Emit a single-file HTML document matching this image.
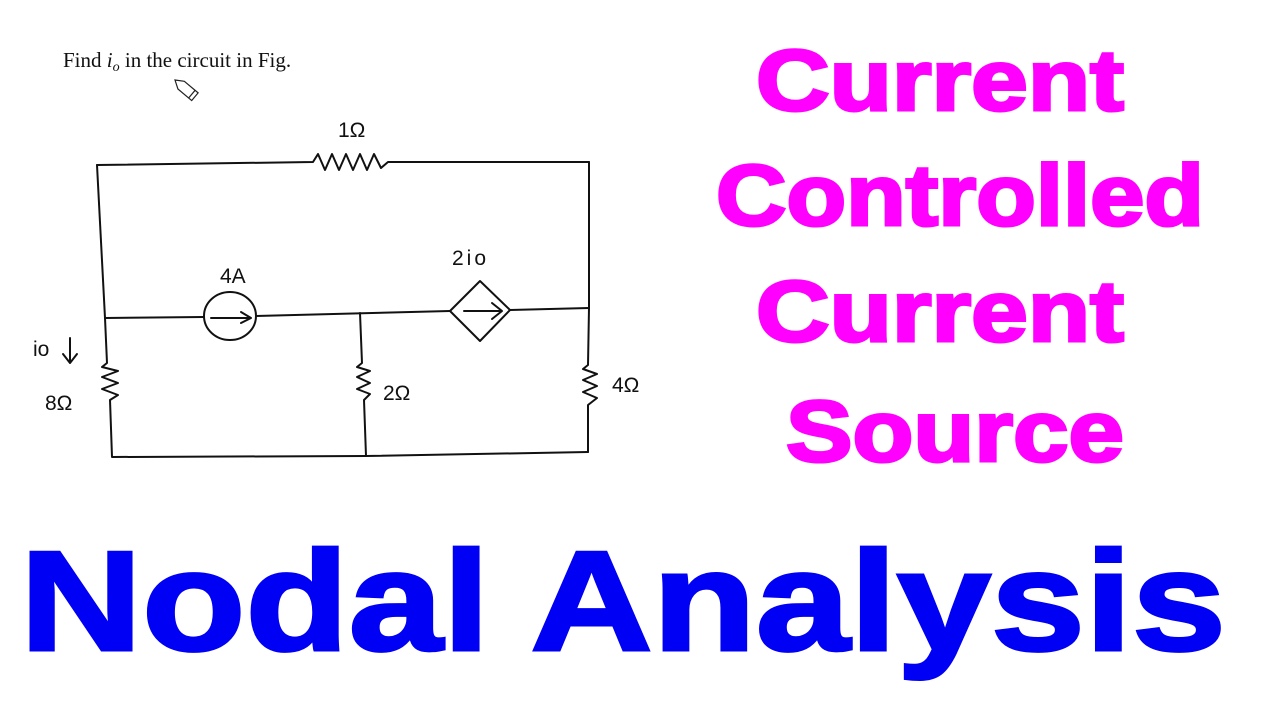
<!DOCTYPE html>
<html><head><meta charset="utf-8"><style>
html,body{margin:0;padding:0;background:#fff;width:1280px;height:720px;overflow:hidden}
svg{position:absolute;left:0;top:0}
.m{font-family:"Liberation Sans",sans-serif;font-weight:bold;fill:#f0f;stroke:#f0f;stroke-width:3;font-size:86px}
.b{font-family:"Liberation Sans",sans-serif;font-weight:bold;fill:#0000f4;stroke:#0000f4;stroke-width:3}
.h{font-family:"Liberation Sans",sans-serif;fill:#111;font-size:21px}
</style></head><body>
<svg width="1280" height="720" viewBox="0 0 1280 720">
<text x="63" y="67" font-family="Liberation Serif,serif" font-size="21" fill="#111">Find <tspan font-style="italic">i</tspan><tspan font-style="italic" font-size="14" dy="4">o</tspan><tspan dy="-4"> in the circuit in Fig.</tspan></text>
<g transform="translate(175,80) rotate(40)" fill="none" stroke="#222" stroke-width="1.2"><path d="M0,0 L8,-5 L26,-5 L26,5 L8,5 Z"/><line x1="22" y1="-5" x2="22" y2="5"/></g>
<g fill="none" stroke="#111" stroke-width="2" stroke-linecap="round" stroke-linejoin="round">
<path d="M97,165 L313,162 L318,154 L325,170 L332,154 L339,170 L346,154 L353,170 L360,154 L367,170 L374,154 L381,168 L388,162 L589,162"/>
<path d="M97,165 L105,318 L107,363 L102,367 L118,371 L102,377 L118,383 L102,389 L118,395 L110,400 L112,457 L366,456 L588,452"/>
<path d="M589,162 L589,308 L588,365 L583,369 L597,374 L583,380 L597,386 L583,392 L597,398 L588,405 L588,452"/>
<path d="M105,318 L204,317 M256,316 L450,311 M510,310 L589,308"/>
<ellipse cx="230" cy="316" rx="26" ry="24"/>
<path d="M211,318 L251,318 M241,312 L251,318 L241,323"/>
<path d="M450,311 L480,281 L510,310 L480,341 Z"/>
<path d="M464,311 L502,311 M492,303 L502,311 L492,319"/>
<path d="M360,313 L362,363 L357,367 L370,371 L357,377 L370,383 L357,389 L370,394 L364,400 L366,456"/>
<path d="M70,338 L70,362 M63,354 L70,363 L77,354"/>
</g>
<text x="220" y="283" class="h" font-size="22">4A</text>
<text x="452" y="265" class="h" font-size="24" letter-spacing="3">2io</text>
<text x="338" y="137" class="h" font-size="22">1Ω</text>
<text x="33" y="356" class="h" font-size="20">io</text>
<text x="45" y="410" class="h" font-size="24">8Ω</text>
<text x="383" y="400" class="h" font-size="20">2Ω</text>
<text x="612" y="392" class="h" font-size="20">4Ω</text>
<text class="m" x="756" y="110" textLength="368" lengthAdjust="spacingAndGlyphs">Current</text>
<text class="m" x="716" y="225" textLength="488" lengthAdjust="spacingAndGlyphs">Controlled</text>
<text class="m" x="756" y="341" textLength="368" lengthAdjust="spacingAndGlyphs">Current</text>
<text class="m" x="786" y="461" textLength="338" lengthAdjust="spacingAndGlyphs">Source</text>
<text class="b" x="20" y="650" font-size="142" textLength="1206" lengthAdjust="spacingAndGlyphs">Nodal Analysis</text>
</svg>
</body></html>
